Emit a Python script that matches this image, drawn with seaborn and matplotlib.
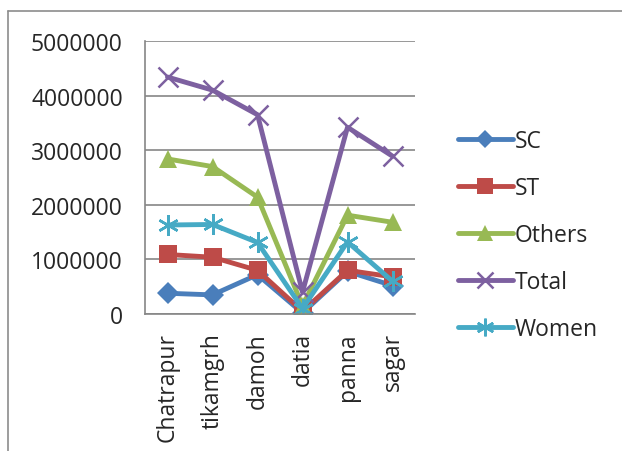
import matplotlib
matplotlib.use("Agg")
import matplotlib.pyplot as plt
import seaborn as sns
import pandas as pd
from matplotlib.lines import Line2D

# district data
districts = ["Chatrapur", "tikamgrh", "damoh", "datia", "panna", "sagar"]
sc = [380000, 350000, 720000, 20000, 780000, 520000]
st = [1090000, 1040000, 800000, 50000, 800000, 680000]
others = [2840000, 2700000, 2140000, 150000, 1810000, 1680000]
total = [4340000, 4100000, 3650000, 400000, 3420000, 2890000]
women = [1630000, 1640000, 1310000, 100000, 1320000, 600000]

series = {"SC": sc, "ST": st, "Others": others, "Total": total, "Women": women}
colors = {"SC": "#4A7EBB", "ST": "#BE4B48", "Others": "#98B954",
          "Total": "#7D60A0", "Women": "#46AAC5"}
markers = {"SC": "D", "ST": "s", "Others": "^", "Total": "x", "Women": (6, 2, 0)}
msizes = {"SC": 11, "ST": 13, "Others": 13, "Total": 14, "Women": 15}

sns.set_style("white")
plt.rcParams['font.family'] = ['Open Sans', 'DejaVu Sans']
FS = 16.5

fig = plt.figure(figsize=(6.22, 4.52), dpi=100)
ax = fig.add_axes([145/622, 1 - 315/452, 270/622, 273/452])

# outer chart border (only top and left visible)
x0, y0 = 8/622, 1 - 12/452
fig.lines.append(Line2D([x0, 1.0], [y0, y0], transform=fig.transFigure, color="#8c8c8c", lw=1.2))
fig.lines.append(Line2D([x0, x0], [0.0, y0], transform=fig.transFigure, color="#8c8c8c", lw=1.2))

for name, vals in series.items():
    df = pd.DataFrame({"x": range(len(districts)), "y": vals})
    sns.lineplot(data=df, x="x", y="y", ax=ax, color=colors[name], linewidth=3.5,
                 marker=markers[name], markersize=msizes[name],
                 markeredgewidth=1.8 if name in ("Total", "Women") else 0,
                 markeredgecolor=colors[name], label=name)

ax.set_xlim(-0.5, len(districts) - 0.5)
ax.set_ylim(0, 5000000)
ax.set_yticks(range(0, 5000001, 1000000))
ax.set_yticklabels([str(v) for v in range(0, 5000001, 1000000)], fontsize=FS)
ax.set_xticks(range(len(districts)))
ax.set_xticklabels(districts, rotation=90, fontsize=FS)
ax.set_xticks([i - 0.5 for i in range(len(districts) + 1)], minor=True)
ax.tick_params(axis="x", which="major", length=0, pad=13)
ax.tick_params(axis="x", which="minor", length=7, color="#868686", width=1.2)
ax.tick_params(axis="y", length=7, color="#868686", width=1.2, pad=9)
ax.set_xlabel("")
ax.set_ylabel("")
ax.grid(axis="y", color="#868686", linewidth=1.2)
ax.set_axisbelow(True)
for s in ["top", "right"]:
    ax.spines[s].set_visible(False)
for s in ["left", "bottom"]:
    ax.spines[s].set_color("#868686")
    ax.spines[s].set_linewidth(1.2)

ax.legend(loc="center left", bbox_to_anchor=(437/622, 1 - 236/452), bbox_transform=fig.transFigure,
          frameon=False, fontsize=FS, handlelength=2.4, handletextpad=0.1, labelspacing=1.0,
          markerscale=0.85)

fig.savefig("out.png", dpi=100)
